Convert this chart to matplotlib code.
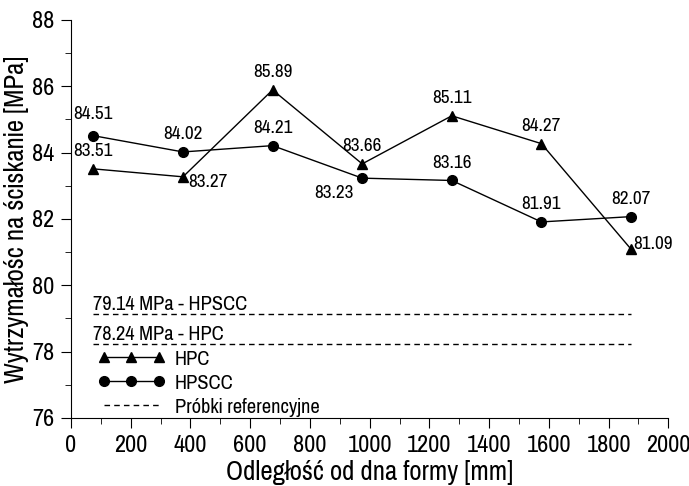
import matplotlib
matplotlib.use("Agg")
import matplotlib.pyplot as plt
from matplotlib.ticker import MultipleLocator

plt.rcParams['font.family'] = ['Pragati Narrow', 'Archivo Narrow', 'Liberation Sans', 'DejaVu Sans']

# data
distance = [75, 375, 675, 975, 1275, 1575, 1875]
hpc = [83.51, 83.27, 85.89, 83.66, 85.11, 84.27, 81.09]
hpscc = [84.51, 84.02, 84.21, 83.23, 83.16, 81.91, 82.07]
ref_hpscc = 79.14
ref_hpc = 78.24

# label offsets (points) for each value
hpc_off = [(0, 7), (18, -4), (0, 7), (0, 7), (0, 7), (0, 7), (16, 4)]
hpscc_off = [(0, 10), (0, 7), (0, 7), (-20, -11), (0, 7), (0, 7), (0, 7)]

fig = plt.figure(figsize=(6.89, 4.86), dpi=100)
ax = fig.add_axes([0.103, 0.14, 0.867, 0.819])

ax.plot(distance, hpc, color='black', lw=1, marker='^', ms=7, label='HPC')
ax.plot(distance, hpscc, color='black', lw=1, marker='o', ms=7, label='HPSCC')
ax.plot([distance[0], distance[-1]], [ref_hpscc] * 2, color='black', lw=1,
        ls=(0, (4, 3)), label='Próbki referencyjne')
ax.plot([distance[0], distance[-1]], [ref_hpc] * 2, color='black', lw=1,
        ls=(0, (4, 3)))

ax.text(distance[0], ref_hpscc + 0.1, f"{ref_hpscc:.2f} MPa - HPSCC", fontsize=16)
ax.text(distance[0], ref_hpc + 0.1, f"{ref_hpc:.2f} MPa - HPC", fontsize=16)

for x, y, off in zip(distance, hpc, hpc_off):
    ax.annotate(f"{y:.2f}", (x, y), xytext=off, textcoords='offset points',
                ha='center', va='center' if off[1] < 7 else 'bottom', fontsize=15)
for x, y, off in zip(distance, hpscc, hpscc_off):
    ax.annotate(f"{y:.2f}", (x, y), xytext=off, textcoords='offset points',
                ha='center', va='center' if off[1] < 7 else 'bottom', fontsize=15)

ax.set_xlim(0, 2000)
ax.set_ylim(76, 88)
ax.xaxis.set_major_locator(MultipleLocator(200))
ax.xaxis.set_minor_locator(MultipleLocator(100))
ax.yaxis.set_major_locator(MultipleLocator(2))
ax.yaxis.set_minor_locator(MultipleLocator(1))
ax.tick_params(which='major', length=7, labelsize=19, pad=5)
ax.tick_params(which='minor', length=4)
for s in ['top', 'right']:
    ax.spines[s].set_visible(False)
ax.set_xlabel("Odległość od dna formy [mm]", fontsize=21, labelpad=3)
ax.set_ylabel("Wytrzymałośc na ściskanie [MPa]", fontsize=21, labelpad=2)

ax.legend(loc='lower left', bbox_to_anchor=(0.01, -0.048), frameon=False,
          numpoints=3, handlelength=3.1, fontsize=16, labelspacing=0.2,
          handletextpad=0.4)

fig.savefig("out.png", dpi=100)
